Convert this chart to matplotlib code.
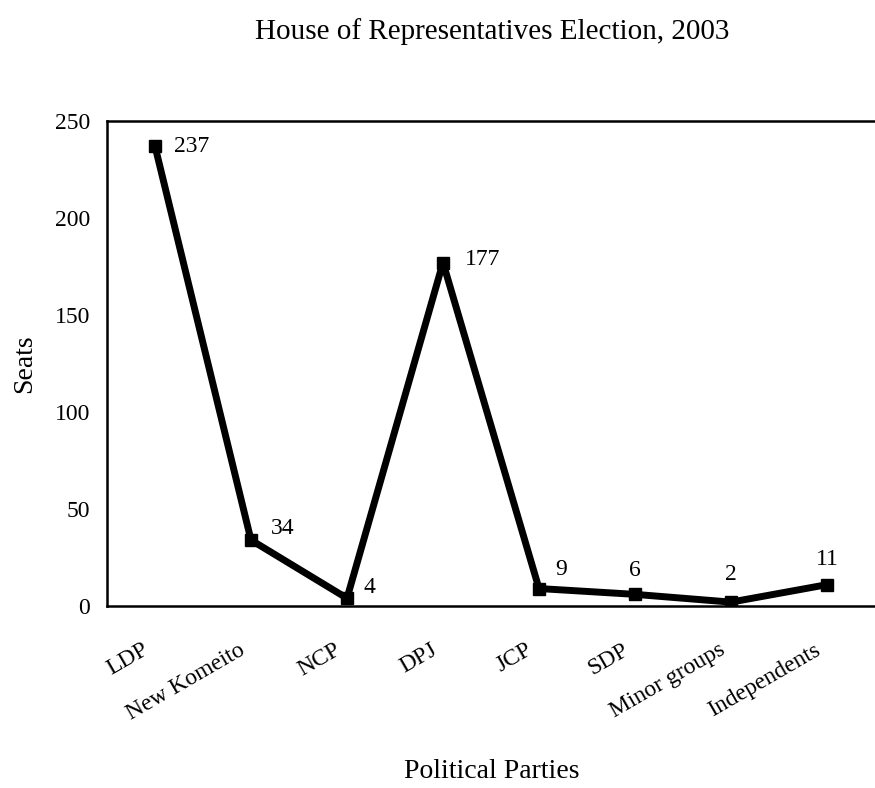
import matplotlib
matplotlib.use("Agg")
import matplotlib.pyplot as plt
import matplotlib.transforms as mtransforms

parties = ["LDP", "New Komeito", "NCP", "DPJ", "JCP", "SDP",
           "Minor groups", "Independents"]
seats = [237, 34, 4, 177, 9, 6, 2, 11]
# label offsets in points (dx, dy)
label_offsets = [(14, 0), (14, 8), (12, 8), (16, 2), (12, 14), (0, 17), (0, 20), (0, 18)]

plt.rcParams['font.family'] = ['Liberation Serif', 'DejaVu Serif']

fig = plt.figure(figsize=(8.75, 7.88), dpi=100)
ax = fig.add_axes((107 / 875, 1 - 606 / 788, 768 / 875, 485 / 788))

x = list(range(len(parties)))
ax.plot(x, seats, 'k-', linewidth=5, marker='s', markersize=9)

for xi, s, (dx, dy) in zip(x, seats, label_offsets):
    ha = 'left' if dx else 'center'
    ax.annotate(str(s), (xi, s), xytext=(dx, dy), textcoords='offset points',
                ha=ha, va='center', fontsize=17)

ax.set_xlim(-0.5, len(parties) - 0.5)
ax.set_ylim(0, 250)
ax.set_yticks([0, 50, 100, 150, 200, 250])
ax.set_xticks(x)
ax.set_xticklabels(parties, rotation=30, ha='right', rotation_mode='anchor')
ax.tick_params(axis='y', length=0, labelsize=17, pad=12)
ax.tick_params(axis='x', length=0, labelsize=17, pad=24)

# nudge the rotated labels a bit to the left
shift = mtransforms.ScaledTranslation(-13 / 100, 0, fig.dpi_scale_trans)
for lab in ax.get_xticklabels():
    lab.set_transform(lab.get_transform() + shift)

for side in ['left', 'bottom', 'top']:
    ax.spines[side].set_linewidth(1.8)
ax.spines['right'].set_visible(False)

ax.set_ylabel('Seats', fontsize=20)
ax.yaxis.set_label_coords(-70 / 768, 0.5)
fig.text(492 / 875, 1 - 32 / 788, 'House of Representatives Election, 2003',
         ha='center', va='center', fontsize=21)
fig.text(492 / 875, 1 - 772 / 788, 'Political Parties',
         ha='center', va='center', fontsize=20)

fig.savefig('out.png', dpi=100)
